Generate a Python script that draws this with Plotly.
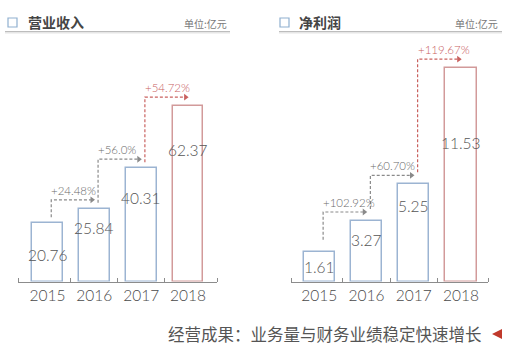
import plotly.graph_objects as go

years = ["2015", "2016", "2017", "2018"]
revenue = [20.76, 25.84, 40.31, 62.37]
revenue_growth = ["+24.48%", "+56.0%", "+54.72%"]
profit = [1.61, 3.27, 5.25, 11.53]
profit_growth = ["+102.92%", "+60.70%", "+119.67%"]

W, H = 514, 350
BLUE = "#9cb4d2"
RED = "#d29a9a"
RED_TXT = "#c9615f"
GREY_TXT = "#6a6a6a"
NUM_FONT = "Lato, Roboto, Arial, sans-serif"
CJK_FONT = "Noto Sans CJK SC, sans-serif"

Y_BASE, Y_TOP = 281.5, 40  # pixel rows of the plot area
y_domain = [(H - Y_BASE) / H, (H - Y_TOP) / H]
plot_h = Y_BASE - Y_TOP


def px(x):
    return x / W


def py(y):
    return 1 - y / H


fig = go.Figure()
annotations = []
shapes = []

panels = [
    dict(ax="x", ay="y", xdom=[18, 217], xr=[-0.63, 3.62], ymax=85.9,
         values=revenue, growth=revenue_growth,
         label_frac=[0.45, 0.74, 0.74, 0.75], start_gap=6,
         title="营业收入", box_x=8, title_x=26, unit_x=229, line=[5, 230]),
    dict(ax="x2", ay="y2", xdom=[291, 488], xr=[-0.60, 3.57], ymax=13.05,
         values=profit, growth=profit_growth,
         label_frac=[0.5, 0.69, 0.78, 0.65], start_gap=12,
         title="净利润", box_x=280, title_x=297, unit_x=500, line=[279, 502]),
]

for i, p in enumerate(panels):
    vals = p["values"]
    n = len(vals)
    scale = plot_h / p["ymax"]  # pixels per unit
    colors = [BLUE] * (n - 1) + [RED]

    fig.add_trace(go.Bar(
        x=list(range(n)), y=vals, width=0.66,
        marker=dict(color="white", line=dict(color=colors, width=1.5)),
        xaxis=p["ax"], yaxis=p["ay"], showlegend=False, hoverinfo="skip",
    ))

    # value labels inside the bars
    for k, v in enumerate(vals):
        annotations.append(dict(
            x=k, y=v * p["label_frac"][k], xref=p["ax"], yref=p["ay"],
            text=f"{v:.2f}", showarrow=False,
            font=dict(family=NUM_FONT, size=15.5, color="#555555", weight=300),
        ))

    # growth arrows between consecutive bars
    for k, g in enumerate(p["growth"]):
        col = RED_TXT if k == n - 2 else "#8a8a8a"
        tcol = RED_TXT if k == n - 2 else GREY_TXT
        xv = k + 0.08
        x_end = k + 1
        y0 = vals[k] + p["start_gap"] / scale
        y1 = vals[k + 1] + 9 / scale
        fig.add_trace(go.Scatter(
            x=[xv, xv, x_end - 0.06], y=[y0, y1, y1], mode="lines",
            line=dict(color=col, width=1.2, dash="3px,2px"),
            xaxis=p["ax"], yaxis=p["ay"], showlegend=False, hoverinfo="skip",
        ))
        fig.add_trace(go.Scatter(
            x=[x_end - 0.05], y=[y1], mode="markers",
            marker=dict(symbol="triangle-right", size=6, color=col),
            xaxis=p["ax"], yaxis=p["ay"], showlegend=False, hoverinfo="skip",
        ))
        annotations.append(dict(
            x=xv - 0.04, y=y1, xref=p["ax"], yref=p["ay"], text=g,
            showarrow=False, xanchor="left", yanchor="bottom", yshift=1,
            font=dict(family="Lato, Arial, sans-serif", size=11.5, color=tcol, weight=300),
        ))

    ax_name = "xaxis" if i == 0 else "xaxis2"
    ay_name = "yaxis" if i == 0 else "yaxis2"
    fig.layout[ax_name] = dict(
        domain=[px(p["xdom"][0]), px(p["xdom"][1])], range=p["xr"],
        anchor=p["ay"], tickmode="array", tickvals=list(range(n)), ticktext=years,
        ticks="", showgrid=False, zeroline=False,
        showline=True, linecolor="#8c8c8c", linewidth=1,
        tickfont=dict(family=NUM_FONT, size=15.5, color="#4a4a4a", weight=300),
        minor=dict(tickmode="array", tickvals=[p["xr"][0], 0.5, 1.5, 2.5, p["xr"][1]],
                   ticks="inside", ticklen=4, tickcolor="#8c8c8c", showgrid=False),
        fixedrange=True,
    )
    fig.layout[ay_name] = dict(
        domain=y_domain, range=[0, p["ymax"]], anchor=p["ax"],
        visible=False, fixedrange=True,
    )

    # panel header: square marker, title, unit and rule
    shapes.append(dict(type="rect", xref="paper", yref="paper",
                       x0=px(p["box_x"]), x1=px(p["box_x"] + 9),
                       y0=py(27), y1=py(18),
                       line=dict(color="#8fb0d0", width=1.2), fillcolor="white"))
    annotations.append(dict(
        x=px(p["title_x"]), y=py(22.5), xref="paper", yref="paper",
        text=f"<b>{p['title']}</b>", showarrow=False, xanchor="left", yanchor="middle",
        font=dict(family=CJK_FONT, size=14, color="#454545"),
    ))
    annotations.append(dict(
        x=px(p["unit_x"]), y=py(23), xref="paper", yref="paper",
        text="单位:亿元", showarrow=False, xanchor="right", yanchor="middle",
        font=dict(family=CJK_FONT, size=10, color="#7a7a7a"),
    ))
    shapes.append(dict(type="line", xref="paper", yref="paper",
                       x0=px(p["line"][0]), x1=px(p["line"][1]), y0=py(32.5), y1=py(32.5),
                       line=dict(color="#e6e6e6", width=2)))
    shapes.append(dict(type="line", xref="paper", yref="paper",
                       x0=px(p["line"][0]), x1=px(p["line"][1]), y0=py(31.5), y1=py(31.5),
                       line=dict(color="#bdbdbd", width=1)))

# footer caption with a red pointer
annotations.append(dict(
    x=px(484), y=py(334), xref="paper", yref="paper",
    text="经营成果：业务量与财务业绩稳定快速增长", showarrow=False,
    xanchor="right", yanchor="middle",
    font=dict(family=CJK_FONT, size=16.5, color="#555555"),
))
shapes.append(dict(type="path", xref="paper", yref="paper",
                   path=f"M {px(492)} {py(334)} L {px(502)} {py(329)} L {px(502)} {py(339)} Z",
                   fillcolor="#c0392b", line=dict(width=0)))

fig.update_layout(
    width=W, height=H, margin=dict(l=0, r=0, t=0, b=0),
    paper_bgcolor="white", plot_bgcolor="white",
    annotations=annotations, shapes=shapes, bargap=0,
)

fig.write_html("out.html", config={"displayModeBar": False})
